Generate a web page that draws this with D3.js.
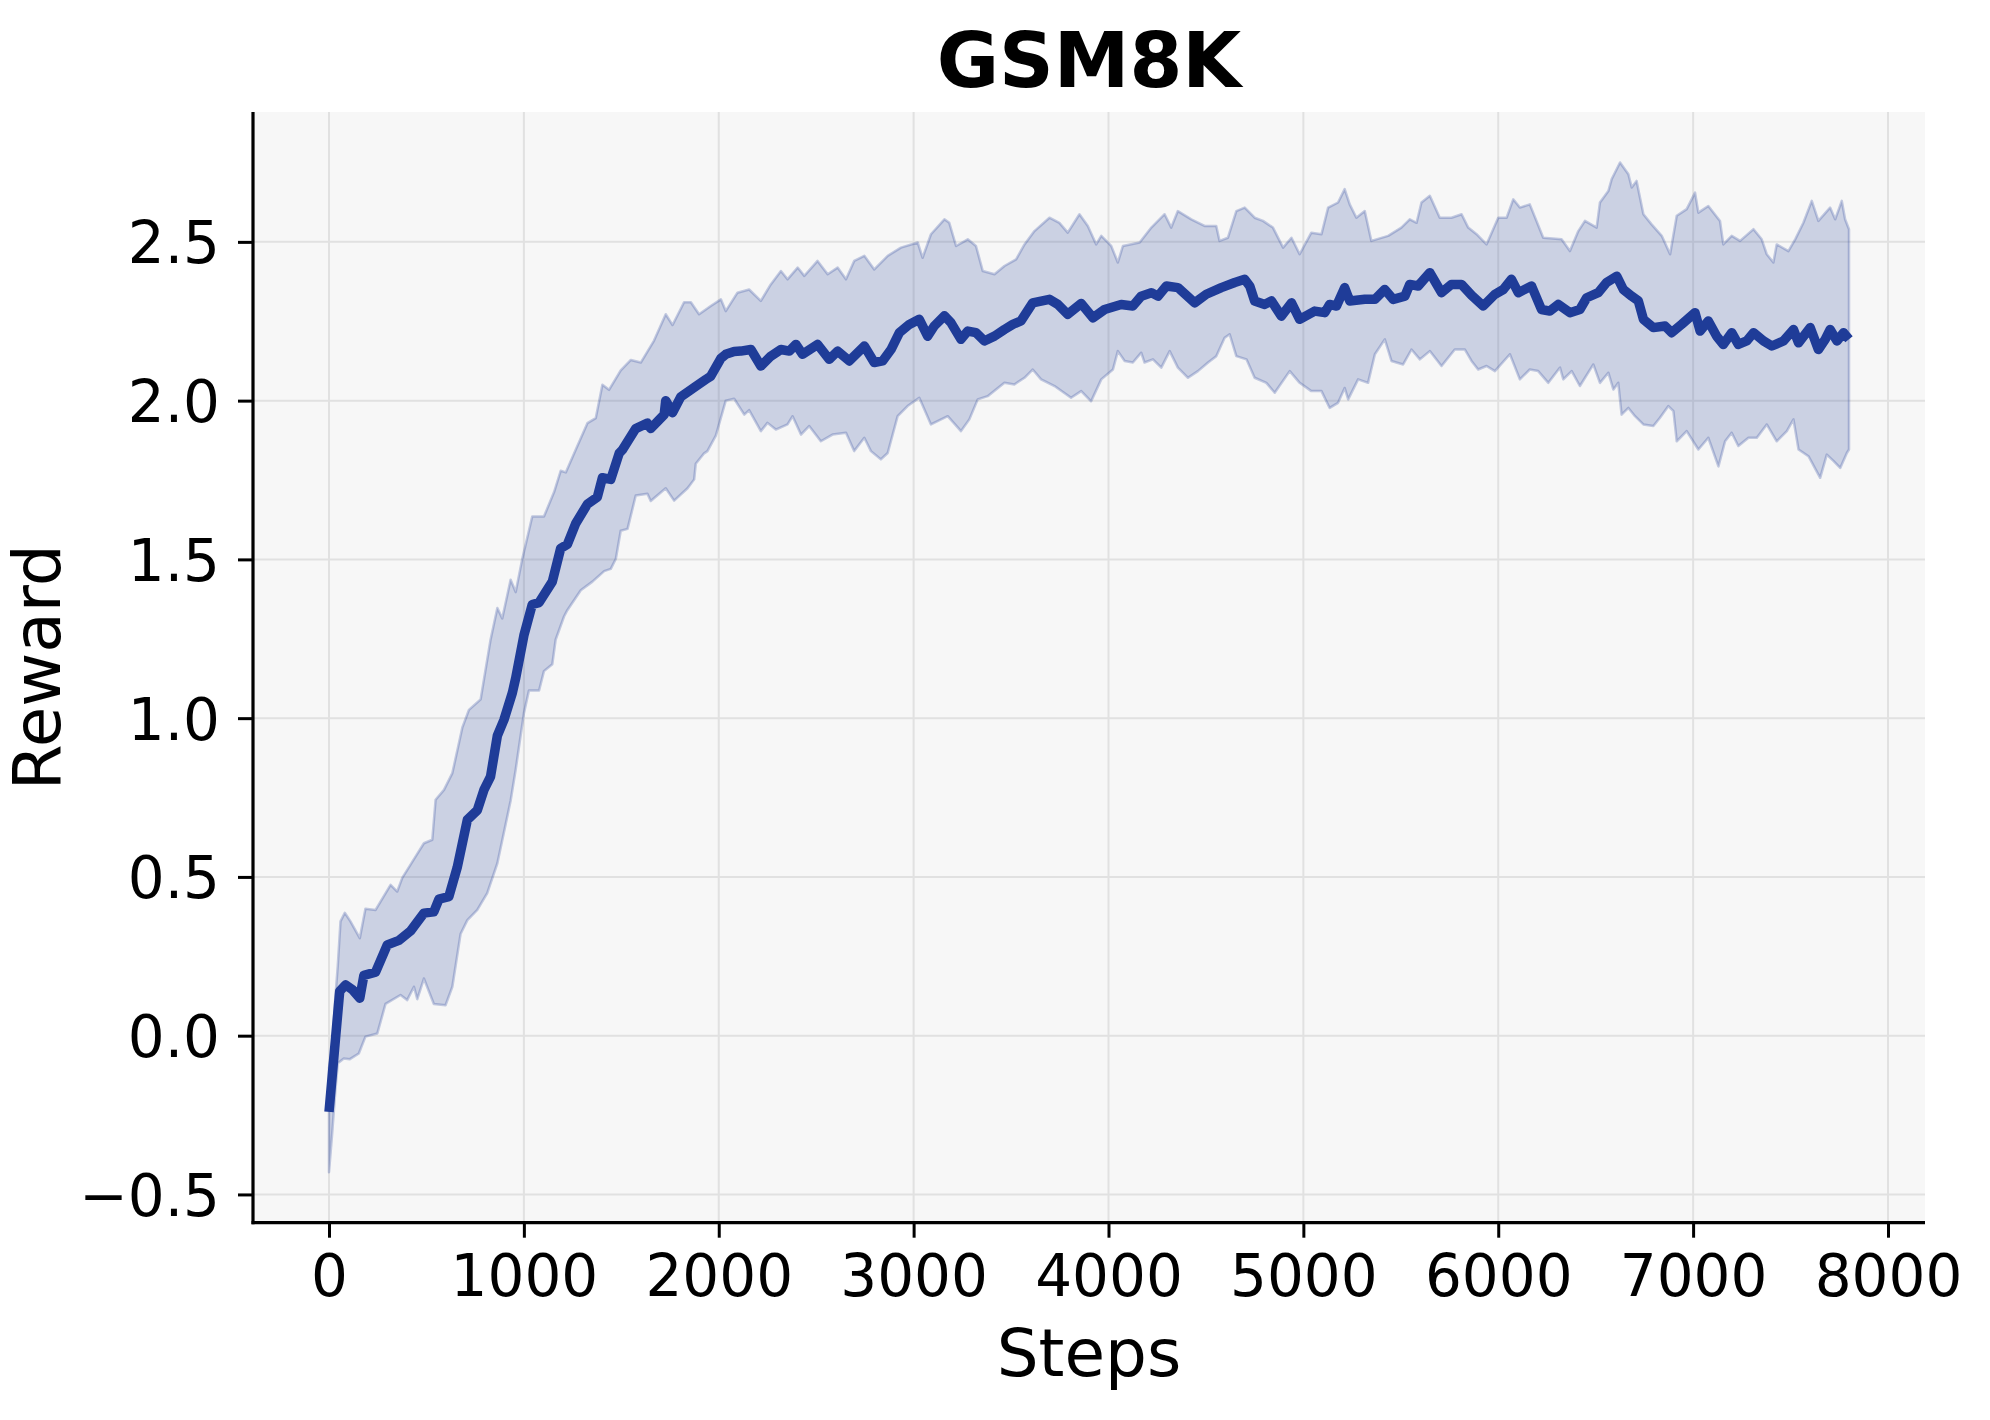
<!DOCTYPE html>
<html>
<head>
<meta charset="utf-8">
<script src="https://cdn.jsdelivr.net/npm/d3@7"></script>
<style>
  html, body { margin: 0; padding: 0; background: #ffffff; }
  svg { display: block; }
  text { font-family: "DejaVu Sans", sans-serif; fill: #000; }
</style>
</head>
<body>
<svg id="chart" width="1990" height="1420"></svg>
<script>
const title = "GSM8K";
const xLabel = "Steps";
const yLabel = "Reward";
const xTicks = [0, 1000, 2000, 3000, 4000, 5000, 6000, 7000, 8000];
const yTicks = [-0.5, 0.0, 0.5, 1.0, 1.5, 2.0, 2.5];

// mean reward curve [step, value]
const meanCurve = [[0,-0.24],[55,0.14],[85,0.16],[120,0.145],[158,0.118],[179,0.19],[239,0.20],[299,0.286],[359,0.30],[419,0.33],[487,0.386],[538,0.39],[564,0.43],[615,0.438],[658,0.53],[710,0.68],[761,0.71],[795,0.774],[829,0.816],[864,0.945],[898,0.995],[941,1.08],[958,1.126],[1000,1.26],[1043,1.358],[1078,1.364],[1146,1.43],[1189,1.535],[1223,1.547],[1266,1.613],[1326,1.674],[1377,1.696],[1403,1.757],[1446,1.752],[1489,1.834],[1506,1.845],[1574,1.912],[1634,1.929],[1651,1.912],[1720,1.956],[1728,2.0],[1763,1.962],[1805,2.012],[1882,2.045],[1934,2.067],[1959,2.077],[2011,2.133],[2036,2.146],[2079,2.155],[2113,2.156],[2165,2.161],[2216,2.109],[2267,2.14],[2319,2.161],[2362,2.156],[2396,2.177],[2430,2.146],[2507,2.177],[2567,2.13],[2610,2.156],[2670,2.125],[2747,2.172],[2798,2.12],[2841,2.125],[2884,2.161],[2927,2.214],[2978,2.24],[3029,2.256],[3072,2.203],[3106,2.235],[3158,2.267],[3192,2.245],[3243,2.193],[3278,2.219],[3320,2.214],[3363,2.188],[3415,2.203],[3466,2.224],[3509,2.24],[3551,2.251],[3611,2.308],[3697,2.319],[3740,2.303],[3791,2.272],[3860,2.306],[3920,2.261],[3980,2.287],[4065,2.303],[4125,2.298],[4168,2.329],[4220,2.34],[4254,2.329],[4297,2.361],[4356,2.356],[4442,2.308],[4502,2.335],[4579,2.356],[4648,2.372],[4699,2.382],[4725,2.361],[4750,2.314],[4802,2.303],[4836,2.314],[4887,2.266],[4939,2.308],[4981,2.256],[5058,2.282],[5110,2.277],[5135,2.303],[5170,2.298],[5212,2.356],[5238,2.314],[5315,2.319],[5367,2.319],[5418,2.35],[5461,2.319],[5521,2.329],[5546,2.366],[5589,2.361],[5649,2.403],[5709,2.34],[5760,2.366],[5812,2.366],[5863,2.332],[5923,2.298],[5983,2.335],[6026,2.35],[6068,2.382],[6103,2.34],[6171,2.361],[6222,2.287],[6265,2.282],[6308,2.303],[6368,2.277],[6419,2.287],[6454,2.324],[6513,2.34],[6556,2.372],[6608,2.392],[6642,2.35],[6685,2.329],[6719,2.314],[6745,2.256],[6796,2.23],[6856,2.235],[6890,2.214],[6941,2.24],[7010,2.277],[7036,2.219],[7078,2.251],[7121,2.203],[7155,2.177],[7198,2.214],[7232,2.177],[7275,2.188],[7310,2.214],[7361,2.188],[7404,2.172],[7464,2.188],[7515,2.224],[7541,2.182],[7601,2.23],[7643,2.161],[7678,2.193],[7703,2.224],[7738,2.188],[7772,2.214],[7800,2.193]];

// upper edge of the shaded band [step, value]
const upperBand = [[0,-0.1],[16,-0.05],[30,0.1],[45,0.22],[59,0.36],[81,0.387],[110,0.36],[158,0.307],[187,0.40],[239,0.396],[316,0.475],[350,0.454],[376,0.497],[444,0.564],[487,0.606],[530,0.617],[547,0.743],[590,0.774],[633,0.827],[684,0.97],[718,1.026],[778,1.059],[829,1.247],[864,1.347],[889,1.314],[932,1.436],[958,1.397],[992,1.502],[1043,1.635],[1103,1.635],[1155,1.712],[1189,1.779],[1215,1.774],[1266,1.845],[1326,1.929],[1369,1.945],[1403,2.05],[1437,2.034],[1497,2.095],[1549,2.128],[1600,2.12],[1668,2.189],[1728,2.272],[1763,2.238],[1822,2.31],[1857,2.31],[1899,2.272],[1959,2.298],[2011,2.319],[2036,2.282],[2096,2.34],[2156,2.35],[2216,2.314],[2267,2.366],[2319,2.408],[2353,2.382],[2405,2.419],[2439,2.393],[2507,2.44],[2559,2.398],[2610,2.419],[2653,2.382],[2695,2.44],[2747,2.456],[2798,2.413],[2867,2.456],[2935,2.482],[3021,2.498],[3046,2.45],[3089,2.524],[3158,2.571],[3183,2.56],[3218,2.487],[3278,2.508],[3320,2.487],[3355,2.408],[3415,2.398],[3466,2.424],[3526,2.445],[3569,2.492],[3620,2.534],[3697,2.576],[3748,2.56],[3791,2.529],[3851,2.587],[3894,2.55],[3937,2.492],[3963,2.519],[4014,2.487],[4048,2.435],[4074,2.487],[4160,2.498],[4220,2.545],[4288,2.587],[4322,2.545],[4356,2.597],[4425,2.571],[4493,2.55],[4553,2.55],[4570,2.503],[4613,2.513],[4656,2.597],[4699,2.608],[4750,2.576],[4793,2.566],[4844,2.545],[4896,2.482],[4939,2.513],[4981,2.461],[5041,2.529],[5093,2.524],[5127,2.608],[5178,2.624],[5212,2.666],[5238,2.618],[5272,2.576],[5315,2.597],[5349,2.503],[5435,2.519],[5503,2.545],[5546,2.571],[5581,2.56],[5606,2.624],[5649,2.645],[5700,2.576],[5760,2.576],[5812,2.587],[5846,2.545],[5889,2.524],[5940,2.492],[6000,2.576],[6043,2.576],[6077,2.634],[6111,2.608],[6162,2.618],[6231,2.513],[6325,2.508],[6368,2.471],[6411,2.534],[6445,2.566],[6505,2.545],[6522,2.624],[6565,2.66],[6582,2.697],[6625,2.75],[6668,2.713],[6685,2.671],[6710,2.692],[6745,2.587],[6787,2.555],[6839,2.519],[6882,2.461],[6916,2.582],[6967,2.603],[7010,2.655],[7027,2.592],[7078,2.613],[7138,2.566],[7155,2.492],[7198,2.519],[7241,2.503],[7310,2.54],[7352,2.508],[7378,2.461],[7412,2.435],[7429,2.492],[7489,2.471],[7524,2.508],[7566,2.56],[7609,2.629],[7643,2.566],[7703,2.608],[7729,2.571],[7763,2.629],[7780,2.571],[7800,2.54]];

// lower edge of the shaded band [step, value]
const lowerBand = [[0,-0.43],[16,-0.31],[33,-0.17],[45,-0.087],[76,-0.072],[107,-0.074],[153,-0.056],[187,-0.003],[248,0.007],[290,0.10],[367,0.128],[401,0.112],[436,0.154],[453,0.115],[487,0.18],[538,0.10],[598,0.096],[633,0.154],[675,0.32],[710,0.364],[761,0.396],[812,0.449],[864,0.543],[932,0.74],[958,0.838],[1000,1.015],[1026,1.087],[1078,1.087],[1103,1.148],[1146,1.17],[1163,1.247],[1206,1.32],[1223,1.34],[1292,1.403],[1352,1.43],[1412,1.463],[1446,1.47],[1472,1.502],[1497,1.59],[1532,1.596],[1574,1.701],[1634,1.707],[1651,1.684],[1728,1.724],[1771,1.685],[1840,1.724],[1874,1.752],[1882,1.801],[1925,1.834],[1942,1.841],[1985,1.89],[2036,2.0],[2079,2.006],[2131,1.956],[2156,1.97],[2216,1.904],[2250,1.93],[2293,1.909],[2353,1.925],[2379,1.951],[2422,1.893],[2464,1.92],[2524,1.872],[2584,1.893],[2653,1.899],[2695,1.841],[2747,1.883],[2781,1.841],[2832,1.815],[2867,1.835],[2918,1.951],[2969,1.983],[3029,2.009],[3089,1.925],[3175,1.951],[3243,1.904],[3286,1.941],[3329,2.004],[3380,2.014],[3423,2.035],[3466,2.056],[3517,2.051],[3569,2.072],[3611,2.098],[3654,2.067],[3723,2.046],[3808,2.009],[3860,2.03],[3911,1.998],[3963,2.067],[4023,2.098],[4048,2.156],[4083,2.125],[4125,2.12],[4168,2.151],[4185,2.12],[4228,2.13],[4271,2.104],[4314,2.156],[4356,2.104],[4408,2.072],[4459,2.093],[4511,2.12],[4553,2.14],[4596,2.198],[4622,2.209],[4656,2.14],[4708,2.13],[4750,2.072],[4810,2.056],[4853,2.025],[4930,2.093],[4981,2.056],[5041,2.03],[5093,2.03],[5135,1.977],[5178,1.993],[5212,2.04],[5230,2.004],[5281,2.067],[5332,2.056],[5367,2.146],[5418,2.193],[5452,2.125],[5512,2.114],[5555,2.161],[5598,2.13],[5649,2.156],[5709,2.109],[5777,2.161],[5829,2.161],[5863,2.125],[5897,2.098],[5940,2.109],[5983,2.093],[6060,2.146],[6111,2.067],[6162,2.098],[6205,2.093],[6257,2.056],[6317,2.104],[6334,2.067],[6377,2.093],[6419,2.046],[6488,2.114],[6522,2.056],[6565,2.088],[6591,2.035],[6616,2.056],[6633,1.956],[6668,1.977],[6702,1.951],[6745,1.925],[6796,1.92],[6830,1.946],[6873,1.983],[6899,1.967],[6916,1.872],[6967,1.904],[7027,1.846],[7078,1.883],[7130,1.793],[7164,1.872],[7198,1.899],[7232,1.857],[7284,1.883],[7327,1.883],[7378,1.925],[7429,1.872],[7481,1.904],[7515,1.941],[7541,1.846],[7592,1.825],[7652,1.757],[7686,1.83],[7720,1.81],[7755,1.788],[7789,1.835],[7800,1.846]];

const lineColor = "#1f3c98";

const svg = d3.select("#chart");
const W = 1990, H = 1420;
svg.append("rect").attr("width", W).attr("height", H).attr("fill", "#ffffff");

const plot = { left: 253, right: 1925, top: 112, bottom: 1222.7 };

// matplotlib-like 5% margins around data extent
const allX = meanCurve.concat(upperBand, lowerBand).map(d => d[0]);
const allY = meanCurve.concat(upperBand, lowerBand).map(d => d[1]);
const [x0, x1] = d3.extent(allX);
const [y0, y1] = d3.extent(allY);
const mx = (x1 - x0) * 0.05, my = (y1 - y0) * 0.05;

const x = d3.scaleLinear().domain([x0 - mx, x1 + mx]).range([plot.left, plot.right]);
const y = d3.scaleLinear().domain([y0 - my, y1 + my]).range([plot.bottom, plot.top]);

// plot background
svg.append("rect")
  .attr("x", plot.left).attr("y", plot.top)
  .attr("width", plot.right - plot.left).attr("height", plot.bottom - plot.top)
  .attr("fill", "#f7f7f7");

// grid
const grid = svg.append("g");
grid.selectAll("line.gx").data(xTicks).join("line")
  .attr("x1", d => x(d)).attr("x2", d => x(d))
  .attr("y1", plot.top).attr("y2", plot.bottom)
  .attr("stroke", "#e1e1e1").attr("stroke-width", 2);
grid.selectAll("line.gy").data(yTicks).join("line")
  .attr("x1", plot.left).attr("x2", plot.right)
  .attr("y1", d => y(d)).attr("y2", d => y(d))
  .attr("stroke", "#e1e1e1").attr("stroke-width", 2);

// band
const lineGen = d3.line().x(d => x(d[0])).y(d => y(d[1]));
const bandPts = upperBand.concat(lowerBand.slice().reverse());
svg.append("path")
  .attr("d", lineGen(bandPts) + "Z")
  .attr("fill", lineColor).attr("fill-opacity", 0.2)
  .attr("stroke", lineColor).attr("stroke-opacity", 0.25)
  .attr("stroke-width", 2.5).attr("stroke-linejoin", "round");

// mean line
svg.append("path")
  .attr("d", lineGen(meanCurve))
  .attr("fill", "none").attr("stroke", lineColor)
  .attr("stroke-width", 9.5).attr("stroke-linejoin", "round").attr("stroke-linecap", "butt");

// axes
const xAxis = d3.axisBottom(x).tickValues(xTicks).tickFormat(d3.format("d")).tickSize(15).tickPadding(15);
const yAxis = d3.axisLeft(y).tickValues(yTicks).tickFormat(d3.format(".1f")).tickSize(15).tickPadding(18);

const gx = svg.append("g").attr("transform", `translate(0,${plot.bottom})`).call(xAxis);
const gy = svg.append("g").attr("transform", `translate(${plot.left},0)`).call(yAxis);
[gx, gy].forEach(g => {
  g.select(".domain").remove();
  g.selectAll(".tick line").attr("stroke", "#000").attr("stroke-width", 3);
  g.selectAll(".tick text").attr("font-size", 58).attr("font-family", "DejaVu Sans").attr("fill", "#000");
});
gx.selectAll(".tick text").attr("dy", "0.74em");
gy.selectAll(".tick text").attr("dy", "0.36em");

// spines
svg.append("line").attr("x1", plot.left).attr("x2", plot.left)
  .attr("y1", plot.top).attr("y2", plot.bottom + 1.5)
  .attr("stroke", "#000").attr("stroke-width", 3.2);
svg.append("line").attr("x1", plot.left - 1.5).attr("x2", plot.right)
  .attr("y1", plot.bottom).attr("y2", plot.bottom)
  .attr("stroke", "#000").attr("stroke-width", 3.2);

// labels
const cx = (plot.left + plot.right) / 2;
svg.append("text").attr("x", cx).attr("y", 87)
  .attr("text-anchor", "middle").attr("font-size", 76).attr("font-weight", "bold").text(title);
svg.append("text").attr("x", cx).attr("y", 1376)
  .attr("text-anchor", "middle").attr("font-size", 66).text(xLabel);
svg.append("text")
  .attr("transform", `translate(60,${(plot.top + plot.bottom) / 2}) rotate(-90)`)
  .attr("text-anchor", "middle").attr("font-size", 66).text(yLabel);
</script>
</body>
</html>
